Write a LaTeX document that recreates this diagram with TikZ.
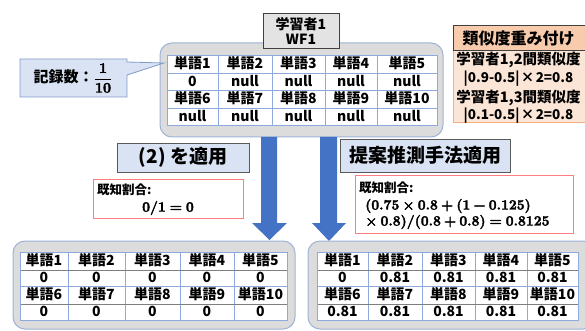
\documentclass[tikz,border=0pt]{standalone}
\usepackage[no-math]{fontspec}
\usepackage{amsmath}
\newfontfamily\jp{Noto Sans CJK JP}
\newcommand\bop[1]{\hspace{0.22em}#1\hspace{0.22em}}
\newcommand\brel[1]{\hspace{0.28em}#1\hspace{0.28em}}
\newcommand\heavy[1]{\special{pdf:code 2 Tr 0.35 w}#1\special{pdf:code 0 Tr}}
\definecolor{panelfill}{HTML}{DCDCDC}
\definecolor{panelline}{HTML}{9FB3D6}
\definecolor{gridblue}{HTML}{8EA9DB}
\definecolor{griddark}{HTML}{7F7F7F}
\definecolor{lightblue}{HTML}{DAE3F3}
\definecolor{calloutline}{HTML}{7F9CC8}
\definecolor{arrowblue}{HTML}{4472C4}
\definecolor{redline}{HTML}{FF7C80}
\definecolor{peach}{HTML}{F8CBAD}
\definecolor{lightpeach}{HTML}{FBE5D6}
\definecolor{peachline}{HTML}{F4B183}
\definecolor{titlefill}{HTML}{E3E3E3}
\tikzset{
  panel/.style={draw=panelline, fill=panelfill, line width=1pt, rounded corners=12pt},
  grid/.style={draw=gridblue, line width=0.6pt},
  griddk/.style={draw=griddark, line width=0.8pt},
  cell/.style={font=\fontsize{14}{14}\selectfont\jp\bfseries, inner sep=0pt, text height=11pt, text depth=1.6pt, anchor=center},
  bluebox/.style={draw=black!65, fill=lightblue, line width=0.8pt, inner sep=0pt, font=\fontsize{19}{19}\selectfont\jp\bfseries},
  redbox/.style={draw=redline, fill=white, line width=0.8pt},
  smalltxt/.style={font=\fontsize{12.5}{12.5}\selectfont\jp\bfseries, inner sep=0pt, anchor=west},
  mathtxt/.style={font=\fontsize{14}{14}\selectfont\rmfamily\bfseries, inner sep=0pt, draw=none},
  peachtxt/.style={font=\fontsize{14.5}{14.5}\selectfont\jp\bfseries, inner sep=0pt, anchor=center},
  peachfx/.style={font=\fontsize{13.5}{13.5}\selectfont\jp\bfseries, inner sep=0pt, anchor=center},
  blockarrow/.style={fill=arrowblue, draw=none}
}
\begin{document}
\begin{tikzpicture}[x=1pt, y=-1pt]
\useasboundingbox (0,0) rectangle (585,331);

% ---------- top panel ----------
\draw[panel] (160,43) rectangle (443,137);
\fill[white] (167,55) rectangle (437,125);
\foreach \x in {218,272,325,377} \draw[grid] (\x,55) -- (\x,125);
\foreach \y in {73,90,108} \draw[grid] (167,\y) -- (437,\y);
\draw[grid] (167,55) rectangle (437,125);
\foreach \i/\xa/\xb/\v/\w in {1/167/218/0/null, 2/218/272/null/null, 3/272/325/null/null, 4/325/377/null/null, 5/377/437/null/null}{
  \pgfmathtruncatemacro\j{\i+5}
  \node[cell] (A-h\i) at ({(\xa+\xb)/2},64) {単語\i};
  \node[cell] (A-v\i) at ({(\xa+\xb)/2},81.5) {\v};
  \node[cell] (A-h\j) at ({(\xa+\xb)/2},99) {単語\j};
  \node[cell] (A-v\j) at ({(\xa+\xb)/2},116.5) {\w};
}

% title box
\node[draw=black!75, fill=titlefill, line width=0.8pt, minimum width=76pt, minimum height=35pt, inner sep=0pt,
      align=center, font=\fontsize{14}{15}\selectfont\jp\bfseries] (wf) at (301,30.5) {学習者1\\WF1};

% ---------- callout ----------
\draw[draw=calloutline, fill=lightblue, line width=0.8pt]
  (20,59) -- (127,59) -- (127,62) -- (164,63) -- (127,75) -- (127,97) -- (20,97) -- cycle;
\node[inner sep=0pt, font=\fontsize{15}{15}\selectfont\jp\bfseries] (rec) at (73,78)
  {記録数：{\fontsize{14}{16}\selectfont\heavy{$\dfrac{\mathbf{1}}{\mathbf{10}}$}}};

% ---------- similarity weighting ----------
\draw[draw=peachline, fill=lightpeach, line width=0.8pt] (453,50) rectangle (592,122);
\draw[draw=black!75, fill=peach, line width=0.8pt] (453,25) rectangle (592,50);
\node[peachtxt, font=\fontsize{16}{16}\selectfont\jp\bfseries] (simh) at (518.5,38) {類似度重み付け};
\node[peachtxt] (s1) at (518.5,60) {学習者1,2間類似度};
\node[peachfx] (s2) at (518.5,79) {|0.9-0.5|\hspace{0.1em}×\hspace{0.1em}2=0.8};
\node[peachtxt] (s3) at (518.5,98) {学習者1,3間類似度};
\node[peachfx] (s4) at (518.5,116) {|0.1-0.5|\hspace{0.1em}×\hspace{0.1em}2=0.8};

% ---------- arrows ----------
\fill[blockarrow] (261,137) -- (277,137) -- (277,223) -- (287,223) -- (269.5,240) -- (252,223) -- (261,223) -- cycle;
\fill[blockarrow] (320,137) -- (337,137) -- (337,223) -- (346,223) -- (329,241) -- (312,223) -- (320,223) -- cycle;

% ---------- labels ----------
\node[bluebox, minimum width=132pt, minimum height=29pt] (apply2) at (183,157.5) {(2) を適用};
\node[bluebox, minimum width=170pt, minimum height=33pt] (propose) at (425,155.5) {提案推測手法適用};

\draw[redbox] (93,179) rectangle (243,218);
\node[smalltxt] (k1) at (97,190) {既知割合:};
\node[mathtxt] (m1) at (168,208) {\heavy{0/1\brel{=}0}};

\draw[redbox] (355,175) rectangle (573,233);
\node[smalltxt] (k2) at (359,188) {既知割合:};
\node[mathtxt, anchor=west] (m2) at (365,206) {\heavy{(0.75\bop{×}0.8\bop{+}(1\bop{−}0.125)}};
\node[mathtxt, anchor=west] (m3) at (365,222) {\heavy{×\hspace{0.22em}0.8)/(0.8\bop{+}0.8)\brel{=}0.8125}};

% ---------- bottom left panel ----------
\draw[panel] (13,241) rectangle (295,329);
\fill[white] (20,252) rectangle (287,320);
\foreach \x in {68,125,180,234} \draw[grid] (\x,252) -- (\x,320);
\draw[grid] (20,286) -- (287,286);
\foreach \y in {270,304} \draw[griddk] (20,\y) -- (287,\y);
\draw[grid] (20,252) rectangle (287,320);
\foreach \i/\xa/\xb in {1/20/68, 2/68/125, 3/125/180, 4/180/234, 5/234/287}{
  \pgfmathtruncatemacro\j{\i+5}
  \node[cell] (B-h\i) at ({(\xa+\xb)/2},261) {単語\i};
  \node[cell] (B-v\i) at ({(\xa+\xb)/2},278) {0};
  \node[cell] (B-h\j) at ({(\xa+\xb)/2},295) {単語\j};
  \node[cell] (B-v\j) at ({(\xa+\xb)/2},312) {0};
}

% ---------- bottom right panel ----------
\draw[panel] (308,241) rectangle (595,329);
\fill[white] (317,252) rectangle (578,320);
\foreach \x in {368,422,475,527} \draw[grid] (\x,252) -- (\x,320);
\draw[grid] (317,286) -- (578,286);
\foreach \y in {270,304} \draw[griddk] (317,\y) -- (578,\y);
\draw[grid] (317,252) rectangle (578,320);
\foreach \i/\xa/\xb/\v in {1/317/368/0, 2/368/422/0.81, 3/422/475/0.81, 4/475/527/0.81, 5/527/578/0.81}{
  \pgfmathtruncatemacro\j{\i+5}
  \node[cell] (C-h\i) at ({(\xa+\xb)/2},261) {単語\i};
  \node[cell] (C-v\i) at ({(\xa+\xb)/2},278) {\v};
  \node[cell] (C-h\j) at ({(\xa+\xb)/2},295) {単語\j};
  \node[cell] (C-v\j) at ({(\xa+\xb)/2},312) {0.81};
}
\end{tikzpicture}
\end{document}
